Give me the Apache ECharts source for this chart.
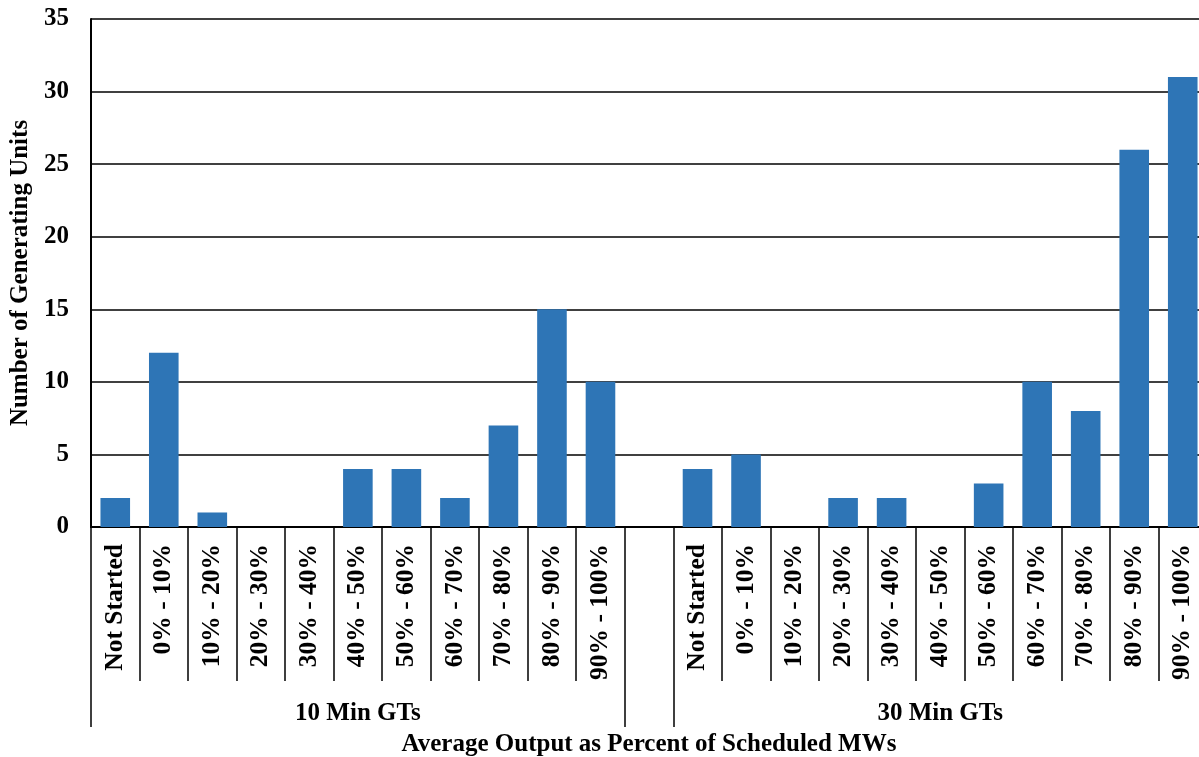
<!DOCTYPE html>
<html>
<head>
<meta charset="utf-8">
<script src="https://cdn.jsdelivr.net/npm/echarts@6/dist/echarts.min.js"></script>
<style>
html,body{margin:0;padding:0;background:#fff;}
#chart{width:1199px;height:757px;}
</style>
</head>
<body>
<div id="chart"></div>
<script>
// ---- data ----
var bins = ['Not Started','0% - 10%','10% - 20%','20% - 30%','30% - 40%','40% - 50%','50% - 60%','60% - 70%','70% - 80%','80% - 90%','90% - 100%'];
var groupNames = ['10 Min GTs','30 Min GTs'];
var values10 = [2, 12, 1, 0, 0, 4, 4, 2, 7, 15, 10];
var values30 = [4, 5, 0, 2, 2, 0, 3, 10, 8, 26, 31];
var yTicks = [0, 5, 10, 15, 20, 25, 30, 35];
var yTitle = 'Number of Generating Units';
var xTitle = 'Average Output as Percent of Scheduled MWs';

// ---- build category axis (two groups separated by an empty slot) ----
var categories = bins.concat(['']).concat(bins);
var values = values10.concat([null]).concat(values30);
var groupLabels = categories.map(function(){ return ''; });
groupLabels[Math.floor(bins.length / 2)] = groupNames[0];
groupLabels[bins.length + 1 + Math.floor(bins.length / 2)] = groupNames[1];
var groupBoundaries = [0, bins.length, bins.length + 1];

var FONT = "'Liberation Serif', 'Times New Roman', serif";
var chart = echarts.init(document.getElementById('chart'), null, {renderer: 'canvas'});
chart.setOption({
  animation: false,
  backgroundColor: '#ffffff',
  grid: {left: 91, top: 19, right: -8, bottom: 230, containLabel: false, outerBoundsMode: 'none'},
  xAxis: [
    {
      type: 'category',
      data: categories,
      position: 'bottom',
      axisLine: {show: true, lineStyle: {color: '#000', width: 2}},
      axisTick: {show: true, interval: 0, length: 154, lineStyle: {color: '#000', width: 1.5}},
      axisLabel: {interval: 0, rotate: 90, margin: 17, color: '#000', fontFamily: FONT, fontWeight: 'bold', fontSize: 25.5},
      splitLine: {show: false}
    },
    {
      type: 'category',
      data: groupLabels,
      position: 'bottom',
      axisLine: {show: false},
      axisTick: {show: true, length: 200, lineStyle: {color: '#000', width: 1.5},
        interval: function (i) { return groupBoundaries.indexOf(i) >= 0; }},
      axisLabel: {interval: 0, margin: 174, color: '#000', fontFamily: FONT, fontWeight: 'bold', fontSize: 25},
      splitLine: {show: false},
      name: xTitle,
      nameLocation: 'middle',
      nameGap: 205,
      nameTextStyle: {color: '#000', fontFamily: FONT, fontWeight: 'bold', fontSize: 25}
    }
  ],
  yAxis: {
    type: 'value',
    min: yTicks[0],
    max: yTicks[yTicks.length - 1],
    interval: yTicks[1] - yTicks[0],
    axisLine: {show: true, lineStyle: {color: '#000', width: 2}},
    axisTick: {show: false},
    axisLabel: {margin: 22, color: '#000', fontFamily: FONT, fontWeight: 'bold', fontSize: 25},
    splitLine: {show: true, lineStyle: {color: '#000', width: 1.5}},
    name: yTitle,
    nameLocation: 'middle',
    nameGap: 56,
    nameTextStyle: {color: '#000', fontFamily: FONT, fontWeight: 'bold', fontSize: 25}
  },
  series: [{
    type: 'bar',
    xAxisIndex: 0,
    data: values,
    barWidth: '61%',
    itemStyle: {color: '#2E75B6'}
  }]
});
</script>
</body>
</html>
